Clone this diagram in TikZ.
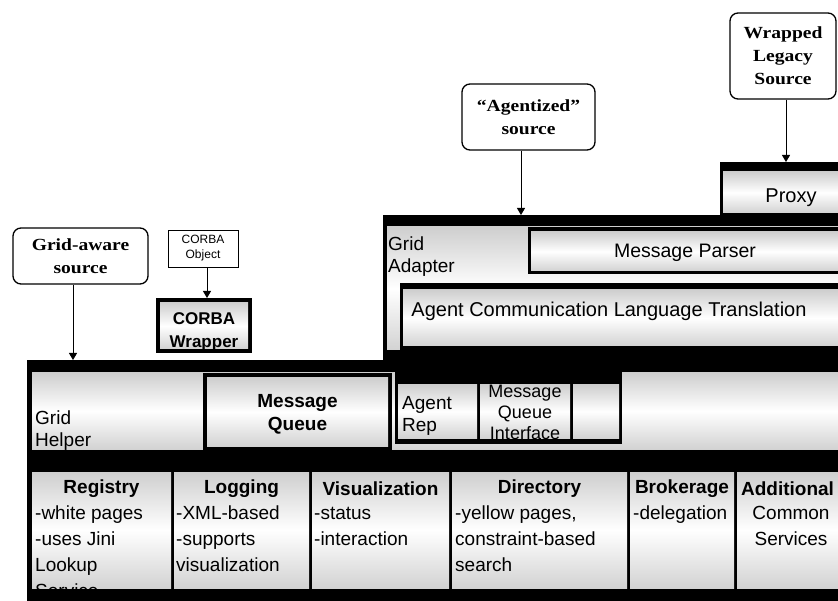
\documentclass[tikz,border=0pt]{standalone}
\usepackage{fontspec}
\setmainfont{Liberation Serif}
\setsansfont{Liberation Sans}
\newfontfamily\srcfont{Liberation Serif}[FakeStretch=1.15,Ligatures=TeX]
\usetikzlibrary{arrows.meta}

% rectangular area given by its corners (x1,y1)-(x2,y2), y growing downwards
\newcommand\areanode[6]{\node[#2,minimum width={(#5-#3)*1pt},minimum height={(#6-#4)*1pt}] (#1) at (#3,#4) {};}

\begin{document}
\begin{tikzpicture}[x=1pt,y=-1pt,
  blk/.style={fill=black,draw=none,inner sep=0pt,outer sep=0pt,anchor=north west},
  pane/.style={top color=gray!38,bottom color=gray!35,middle color=white,draw=none,inner sep=0pt,outer sep=0pt,anchor=north west},
  src/.style={draw=black,line width=1.3pt,rounded corners=8pt,fill=white,align=center,inner sep=0pt,font=\srcfont\bfseries\fontsize{17}{23}\selectfont},
  obj/.style={draw=black,line width=0.9pt,fill=white,align=center,inner sep=0pt,font=\sffamily\fontsize{12}{15}\selectfont},
  lbl/.style={inner sep=0pt,align=left,anchor=north west,font=\sffamily\fontsize{19}{22}\selectfont},
  body/.style={inner sep=0pt,align=left,anchor=north west,font=\sffamily\fontsize{19}{26}\selectfont},
  ttl/.style={inner sep=0pt,align=center,font=\sffamily\bfseries\fontsize{19}{23}\selectfont},
  arr/.style={line width=1pt,-{Triangle[width=8pt,length=7pt]}}
]
\fill[white] (0,0) rectangle (838,601);
\useasboundingbox (0,0) rectangle (838,601);

% ---------- sources ----------
\node[src,minimum width=135pt,minimum height=56pt] (gas) at (80.5,256) {Grid-aware\\source};
\node[src,minimum width=133pt,minimum height=66pt] (ags) at (528.5,117) {“Agentized”\\source};
\node[src,minimum width=106pt,minimum height=86pt] (wls) at (783,56) {Wrapped\\Legacy\\Source};
\node[obj,minimum width=70pt,minimum height=37pt] (cob) at (203,248.5) {CORBA\\Object};

% ---------- CORBA wrapper ----------
\areanode{cwf}{blk}{156}{298}{252}{353}
\areanode{cw}{pane}{160}{303}{248}{349}
\node[ttl,font=\sffamily\bfseries\fontsize{17}{23}\selectfont,anchor=north] (cwt) at (204,308) {\strut CORBA\\Wrapper};

% ---------- proxy ----------
\areanode{pxf}{blk}{720}{162}{838}{215}
\areanode{px}{pane}{723}{172}{838}{213}
\node[inner sep=0pt,anchor=base,font=\sffamily\fontsize{20}{24}\selectfont] (pxt) at (791,203) {Proxy};

% ---------- grid adapter ----------
\areanode{adapter}{blk}{383}{215}{838}{360}
\areanode{ada}{pane}{387}{227}{838}{350}
\areanode{mpf}{blk}{528}{227}{838}{274}
\areanode{mp}{pane}{531}{232}{838}{271}
\node[inner sep=0pt,anchor=base,font=\sffamily\fontsize{19.5}{24}\selectfont] (mpt) at (685,258) {Message Parser};
\areanode{aclf}{blk}{400}{283}{838}{350}
\areanode{acl}{pane}{403}{290}{838}{346}
\node[inner sep=0pt,anchor=base,font=\sffamily\fontsize{20}{24}\selectfont] (aclt) at (609,317) {Agent Communication Language Translation};
\node[lbl] (adt) at (388,234.6) {\strut Grid\\Adapter};

% ---------- grid helper ----------
\areanode{helper}{blk}{27}{360}{838}{601}
\areanode{hrow}{pane}{32}{373}{838}{449}
\node[lbl] (hlt) at (35,408.6) {\strut Grid\\Helper};
\areanode{mqf}{blk}{203}{373}{392}{450}
\areanode{mq}{pane}{207}{378}{388}{446}
\node[ttl,anchor=north] (mqt) at (297.5,391) {\strut Message\\Queue};
\areanode{repf}{blk}{395}{372}{622}{444}
\areanode{rep}{pane}{398}{385}{477}{438}
\areanode{mqi}{pane}{480}{385}{570}{438}
\areanode{spare}{pane}{573}{385}{619}{438}
\begin{scope}
  \clip (398,385) rectangle (477,438);
  \node[lbl] (rept) at (402,393.6) {\strut Agent\\Rep};
\end{scope}
\begin{scope}
  \clip (480,385) rectangle (570,438);
  \node[inner sep=0pt,align=center,anchor=north,font=\sffamily\fontsize{18}{21}\selectfont] (mqit) at (525,383) {\strut Message\\Queue\\Interface};
\end{scope}

% ---------- common services ----------
\areanode{reg}{pane}{32}{472}{171}{588}
\areanode{logc}{pane}{174}{472}{309}{588}
\areanode{vis}{pane}{312}{472}{449}{588}
\areanode{dir}{pane}{452}{472}{627}{588}
\areanode{brk}{pane}{630}{472}{734}{588}
\areanode{add}{pane}{737}{472}{838}{588}
\begin{scope}
  \clip (32,472) rectangle (838,588);
  \node[ttl] (regt) at (101.5,489) {Registry};
  \node[ttl] (logt) at (241.5,489) {Logging};
  \node[ttl] (vist) at (380.5,489) {Visualization};
  \node[ttl] (dirt) at (539.5,489) {Directory};
  \node[ttl] (brkt) at (682,489) {Brokerage};
  \node[ttl] (addt) at (787.5,489) {Additional};
  \node[body] (regb) at (35,501) {\strut -white pages\\-uses Jini\\Lookup\\Service};
  \node[body] (logb) at (176,501) {\strut -XML-based\\-supports\\visualization};
  \node[body] (visb) at (314,501) {\strut -status\\-interaction};
  \node[body] (dirb) at (455,501) {\strut -yellow pages,\\constraint-based\\search};
  \node[body] (brkb) at (633,501) {\strut -delegation};
  \node[body,align=center,anchor=north] (addb) at (791,501) {\strut Common\\Services};
\end{scope}

% ---------- connectors ----------
\draw[arr] ([xshift=-7.5pt]gas.south) -- ([xshift=-7.5pt]gas.south |- helper.north);
\draw[arr] ([xshift=-7.5pt]ags.south) -- ([xshift=-7.5pt]ags.south |- adapter.north);
\draw[arr] ([xshift=3pt]wls.south) -- ([xshift=3pt]wls.south |- pxf.north);
\draw[arr] ([xshift=4pt]cob.south) -- ([xshift=4pt]cob.south |- cwf.north);
\end{tikzpicture}
\end{document}
